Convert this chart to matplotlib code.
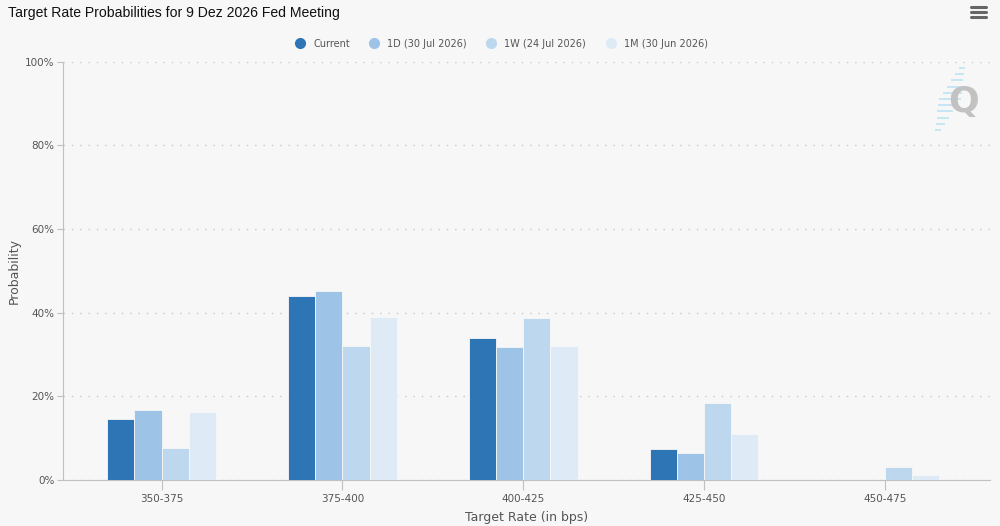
import numpy as np
import matplotlib.pyplot as plt
from matplotlib.lines import Line2D
from matplotlib.ticker import FuncFormatter

# values (percent)
categories = ["350-375", "375-400", "400-425", "425-450", "450-475"]
series_names = ["Current", "1D (30 Jul 2026)", "1W (24 Jul 2026)", "1M (30 Jun 2026)"]
current = [14.7, 44.0, 33.9, 7.3, 0.0]
one_day = [16.7, 45.2, 31.7, 6.4, 0.0]
one_week = [7.6, 32.0, 38.7, 18.4, 3.0]
one_month = [16.2, 39.0, 32.1, 11.0, 1.2]
y_ticks = [0, 20, 40, 60, 80, 100]

colors = ["#2e75b6", "#9dc3e6", "#bdd7ee", "#deebf7"]
bg = "#f7f7f7"
text_grey = "#555555"

fig = plt.figure(figsize=(10, 5.26), dpi=100, facecolor=bg)
ax = fig.add_axes([0.063, 0.0875, 0.927, 0.795], facecolor=bg)

x = np.arange(len(categories))
width = 0.15
all_series = [current, one_day, one_week, one_month]
for i, (vals, name) in enumerate(zip(all_series, series_names)):
    offset = (i - 1.5) * width
    ax.bar(x + offset, vals, width=width, color=colors[i], edgecolor=bg,
           linewidth=0.6, label=name, zorder=3)

ax.set_xlim(-0.545, 4.58)
ax.set_ylim(0, 100)
ax.set_yticks(y_ticks)
ax.yaxis.set_major_formatter(FuncFormatter(lambda v, p: f"{int(v)}%"))
ax.set_xticks(x)
ax.set_xticklabels(categories)

ax.grid(axis="y", linestyle=(0, (1, 5)), color="#c8c8c8", linewidth=1.0, zorder=0)
for side in ["top", "right"]:
    ax.spines[side].set_visible(False)
ax.spines["left"].set_color("#c0c0c0")
ax.spines["bottom"].set_color("#c0c0c0")
ax.tick_params(axis="y", colors="#c0c0c0", labelcolor=text_grey, labelsize=7.5,
               length=4, width=0.8, pad=2)
ax.tick_params(axis="x", colors="#c0c0c0", labelcolor=text_grey, labelsize=7.5,
               length=7, width=0.8, pad=3)

ax.set_xlabel("Target Rate (in bps)", fontsize=9, color=text_grey, labelpad=5)
ax.set_ylabel("Probability", fontsize=9, color=text_grey)
ax.yaxis.set_label_coords(-0.046, 0.5)

fig.text(0.008, 0.975, "Target Rate Probabilities for 9 Dez 2026 Fed Meeting",
         fontsize=10.1, family="Liberation Sans", color="#111111", va="center", ha="left")

handles = [Line2D([0], [0], marker="o", linestyle="", markersize=7,
                  markerfacecolor=c, markeredgecolor=c) for c in colors]
fig.legend(handles, series_names, loc="center", bbox_to_anchor=(0.499, 0.917),
           ncol=4, frameon=False, fontsize=7, labelcolor=text_grey,
           handletextpad=0.35, columnspacing=1.5)

# menu icon
for yy in [0.968, 0.977, 0.986]:
    fig.add_artist(Line2D([0.971, 0.986], [yy, yy], color="#666666", linewidth=2.2,
                          solid_capstyle="round"))

# watermark: speed stripes + Q
n_stripes = 11
for k in range(n_stripes):
    t = k / (n_stripes - 1)
    py = 68 + t * 62
    cx = 962 - t * 24
    half = 2 + 8 * (1 - abs(t - 0.5) * 2)
    yy = 1 - py / 526
    fig.add_artist(Line2D([(cx - half) / 1000, (cx + half) / 1000], [yy, yy],
                          color="#c6e6f3", linewidth=1.4))
fig.text(0.964, 0.806, "Q", fontsize=26, fontweight="bold", color="#c2c2c2",
         ha="center", va="center")

fig.savefig("out.png", dpi=100, facecolor=bg)
